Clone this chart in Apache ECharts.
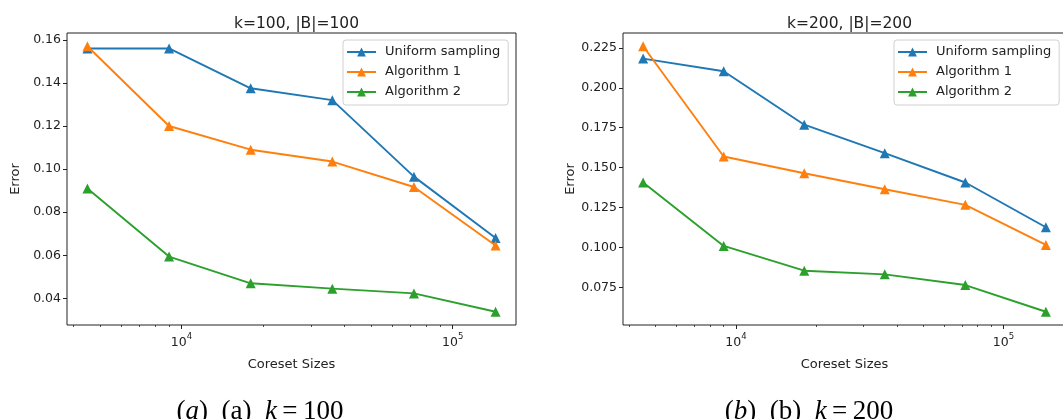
<!DOCTYPE html>
<html>
<head>
<meta charset="utf-8">
<script src="https://cdn.jsdelivr.net/npm/echarts@6/dist/echarts.min.js"></script>
<style>
html, body { margin: 0; padding: 0; background: #fff; }
#chart { width: 1063px; height: 419px; }
</style>
</head>
<body>
<div id="chart"></div>
<script>
// values
var coresetSizes = [4500, 9000, 18000, 36000, 72000, 144000];
var seriesNames = ['Uniform sampling', 'Algorithm 1', 'Algorithm 2'];

var k100Uniform = [0.156, 0.156, 0.1375, 0.132, 0.0965, 0.068];
var k100Alg1 = [0.157, 0.120, 0.109, 0.1035, 0.0917, 0.0645];
var k100Alg2 = [0.091, 0.0594, 0.047, 0.0445, 0.0423, 0.0338];

var k200Uniform = [0.2183, 0.2104, 0.1769, 0.1591, 0.1407, 0.1127];
var k200Alg1 = [0.226, 0.157, 0.1465, 0.1365, 0.1267, 0.1016];
var k200Alg2 = [0.1407, 0.101, 0.0855, 0.0832, 0.0765, 0.0598];

var yTicksK100 = [0.04, 0.06, 0.08, 0.10, 0.12, 0.14, 0.16];
var yTicksK200 = [0.075, 0.100, 0.125, 0.150, 0.175, 0.200, 0.225];
var xMajorTicks = [10000, 100000];
var xMinorTicks = [4000, 5000, 6000, 7000, 8000, 9000,
  20000, 30000, 40000, 50000, 60000, 70000, 80000, 90000];

var colors = ['#1f77b4', '#ff7f0e', '#2ca02c'];
var ink = '#222';
var font = 'DejaVu Sans';

// matplotlib style 5% margins
function padRange(arrs) {
  var all = [].concat.apply([], arrs);
  var lo = Math.min.apply(null, all), hi = Math.max.apply(null, all);
  var m = (hi - lo) * 0.05;
  return [lo - m, hi + m];
}
function padLogRange(vals) {
  var lo = Math.log10(Math.min.apply(null, vals));
  var hi = Math.log10(Math.max.apply(null, vals));
  var m = (hi - lo) * 0.05;
  return [Math.pow(10, lo - m), Math.pow(10, hi + m)];
}

var xr = padLogRange(coresetSizes);
var y100 = padRange([k100Uniform, k100Alg1, k100Alg2]);
var y200 = padRange([k200Uniform, k200Alg1, k200Alg2]);

var grids = [
  { left: 67, top: 33, width: 449, height: 292 },
  { left: 623, top: 33, width: 443, height: 292 }
];
grids.forEach(function (g) {
  g.show = true;
  g.borderColor = ink;
  g.borderWidth = 1;
  g.backgroundColor = 'transparent';
  g.containLabel = false;
  g.outerBoundsMode = 'none';
});

function supLabel(v) {
  return '{b|10}{s|' + (v === 10000 ? '4' : '5') + '}';
}

function xAxes(gi) {
  return [{
    type: 'log', logBase: 10, gridIndex: gi, position: 'bottom',
    min: xr[0], max: xr[1],
    name: 'Coreset Sizes', nameLocation: 'middle', nameGap: 33,
    nameTextStyle: { fontFamily: font, fontSize: 13, color: ink },
    axisLine: { show: false },
    splitLine: { show: false },
    minorTick: { show: false },
    axisTick: { show: true, length: 4, customValues: xMajorTicks, lineStyle: { color: ink, width: 1 } },
    axisLabel: { customValues: xMajorTicks, formatter: supLabel, margin: 7,
      fontFamily: font, fontSize: 12.5, color: ink,
      rich: {
        b: { fontFamily: font, fontSize: 12.5, color: ink, lineHeight: 17, verticalAlign: 'bottom' },
        s: { fontFamily: font, fontSize: 8.5, color: ink, lineHeight: 10, verticalAlign: 'top' }
      } }
  }, {
    type: 'log', logBase: 10, gridIndex: gi, position: 'bottom',
    min: xr[0], max: xr[1],
    axisLine: { show: false },
    splitLine: { show: false },
    axisTick: { show: true, length: 2, customValues: xMinorTicks, lineStyle: { color: ink, width: 0.8 } },
    axisLabel: { show: false }
  }];
}

function yAxis(gi, range, ticks, digits) {
  return {
    type: 'value', gridIndex: gi, min: range[0], max: range[1],
    name: 'Error', nameLocation: 'middle', nameGap: 45,
    nameTextStyle: { fontFamily: font, fontSize: 13, color: ink },
    axisLine: { show: false },
    splitLine: { show: false },
    axisTick: { show: true, length: 4, customValues: ticks, lineStyle: { color: ink, width: 1 } },
    axisLabel: { customValues: ticks, margin: 6, fontFamily: font, fontSize: 12.5, color: ink,
      formatter: function (v) { return v.toFixed(digits); } }
  };
}

function lineSeries(name, vals, xi, yi, ci) {
  return {
    type: 'line', name: name, xAxisIndex: xi, yAxisIndex: yi,
    data: coresetSizes.map(function (x, i) { return [x, vals[i]]; }),
    symbol: 'triangle', symbolSize: 10, showSymbol: true,
    color: colors[ci],
    lineStyle: { width: 1.9, color: colors[ci] },
    itemStyle: { color: colors[ci] },
    emphasis: { disabled: true },
    z: 2 + ci
  };
}

function legend(left) {
  return {
    data: seriesNames, orient: 'vertical', left: left, top: 40,
    itemWidth: 29, itemHeight: 11, itemGap: 6,
    padding: [5, 8, 6, 3],
    backgroundColor: 'rgba(255,255,255,0.8)',
    borderColor: '#d0d0d0', borderWidth: 1, borderRadius: 3,
    selectedMode: false,
    textStyle: { fontFamily: font, fontSize: 13, color: ink, lineHeight: 14, padding: [0, 0, 0, 4] }
  };
}

var serif = 'Liberation Serif';
var capRich = {
  r: { fontFamily: serif, fontSize: 27, fontWeight: 'normal', color: '#000', lineHeight: 30 },
  i: { fontFamily: serif, fontSize: 27, fontWeight: 'normal', color: '#000', fontStyle: 'italic', lineHeight: 30 }
};
var thin = '\u2009';

var option = {
  animation: false,
  backgroundColor: '#fff',
  title: [
    { text: 'k=100, |B|=100', left: 291.5, top: 10, textAlign: 'center',
      textStyle: { fontFamily: font, fontSize: 15.5, fontWeight: 'normal', color: ink, lineHeight: 18 } },
    { text: 'k=200, |B|=200', left: 844.5, top: 10, textAlign: 'center',
      textStyle: { fontFamily: font, fontSize: 15.5, fontWeight: 'normal', color: ink, lineHeight: 18 } },
    { text: '{r|(}{i|a}{r|)  (a)  }{i|k}{r|' + thin + '=' + thin + '100}', left: 260, bottom: -5, padding: 0, textAlign: 'center',
      textStyle: { fontWeight: 'normal', rich: capRich } },
    { text: '{r|(}{i|b}{r|)  (b)  }{i|k}{r|' + thin + '=' + thin + '200}', left: 809, bottom: -5, padding: 0, textAlign: 'center',
      textStyle: { fontWeight: 'normal', rich: capRich } }
  ],
  legend: [legend(343), legend(894)],
  grid: grids,
  xAxis: xAxes(0).concat(xAxes(1)),
  yAxis: [yAxis(0, y100, yTicksK100, 2), yAxis(1, y200, yTicksK200, 3)],
  series: [
    lineSeries(seriesNames[0], k100Uniform, 0, 0, 0),
    lineSeries(seriesNames[1], k100Alg1, 0, 0, 1),
    lineSeries(seriesNames[2], k100Alg2, 0, 0, 2),
    lineSeries(seriesNames[0], k200Uniform, 2, 1, 0),
    lineSeries(seriesNames[1], k200Alg1, 2, 1, 1),
    lineSeries(seriesNames[2], k200Alg2, 2, 1, 2)
  ]
};

var chart = echarts.init(document.getElementById('chart'), null, { renderer: 'canvas' });
chart.setOption(option);
</script>
</body>
</html>
